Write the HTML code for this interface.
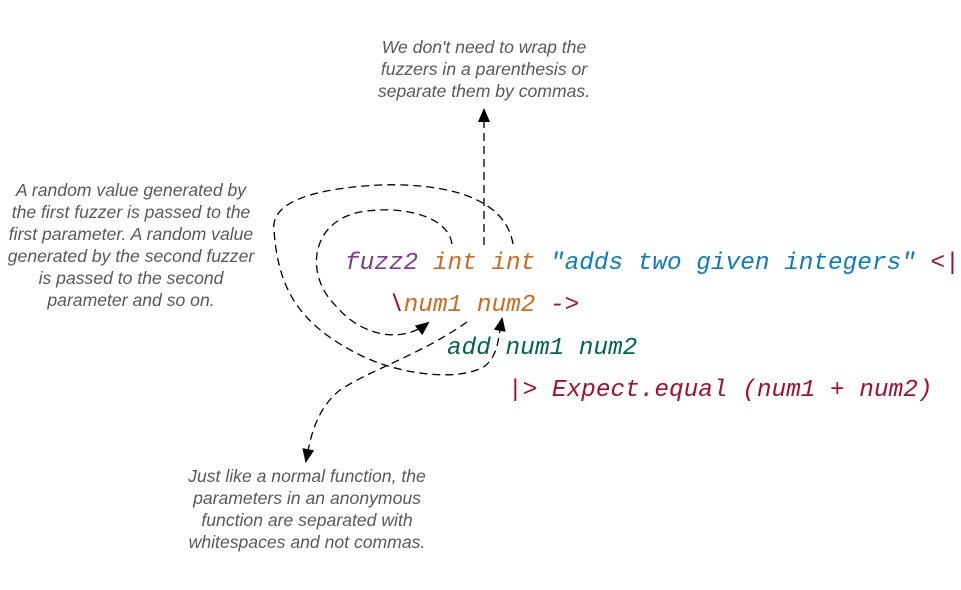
<!DOCTYPE html>
<html><head><meta charset="utf-8"><style>
body{margin:0;width:961px;height:590px;background:#fff;position:relative;overflow:hidden}
.n{position:absolute;font:italic 17.6px/22px "Liberation Sans",sans-serif;color:#595959;text-align:center}
.c{position:absolute;font:italic 24.4px "Liberation Mono",monospace;white-space:pre;line-height:30px}
.p{color:#7d3c8c}.o{color:#cf6a22}.b{color:#0b7dbd}.r{color:#a3102e}.g{color:#00664f}
</style></head><body>
<div class="n" style="left:334px;top:36px;width:300px">We don't need to wrap the<br>fuzzers in a parenthesis or<br>separate them by commas.</div>
<div class="n" style="left:-20px;top:179px;width:302px">A random value generated by<br>the first fuzzer is passed to the<br>first parameter. A random value<br>generated by the second fuzzer<br>is passed to the second<br>parameter and so on.</div>
<div class="n" style="left:157px;top:465px;width:300px">Just like a normal function, the<br>parameters in an anonymous<br>function are separated with<br>whitespaces and not commas.</div>
<div class="c" style="left:345px;top:249px"><span class="p">fuzz2</span> <span class="o">int int</span> <span class="b">"adds two given integers"</span> <span class="r">&lt;|</span></div>
<div class="c" style="left:389px;top:291px"><span class="r">\</span><span class="o">num1 num2</span> <span class="r">-&gt;</span></div>
<div class="c g" style="left:447px;top:334px">add num1 num2</div>
<div class="c r" style="left:508px;top:376px">|&gt; Expect.equal (num1 + num2)</div>
<svg width="961" height="590" style="position:absolute;left:0;top:0">
<defs><marker id="a" markerWidth="14" markerHeight="12" refX="12" refY="6" orient="auto" markerUnits="userSpaceOnUse"><path d="M0,0L14,6L0,12z" fill="#000"/></marker></defs>
<g fill="none" stroke="#000" stroke-width="1.3" stroke-dasharray="8,5">
<path d="M484,245 L484,110" marker-end="url(#a)"/>
<path d="M452,244 C448,215 400,205 360,212 C310,222 305,275 335,305 C360,335 400,345 428,323" marker-end="url(#a)"/>
<path d="M513,244 C505,195 440,183 380,185 C320,188 270,200 274,230 C278,290 300,325 360,355 C400,375 460,382 485,366 C498,355 498,340 502,319" marker-end="url(#a)"/>
<path d="M467,322 C420,355 370,370 340,390 C315,410 310,440 306,461" marker-end="url(#a)"/>
</g></svg>
</body></html>
